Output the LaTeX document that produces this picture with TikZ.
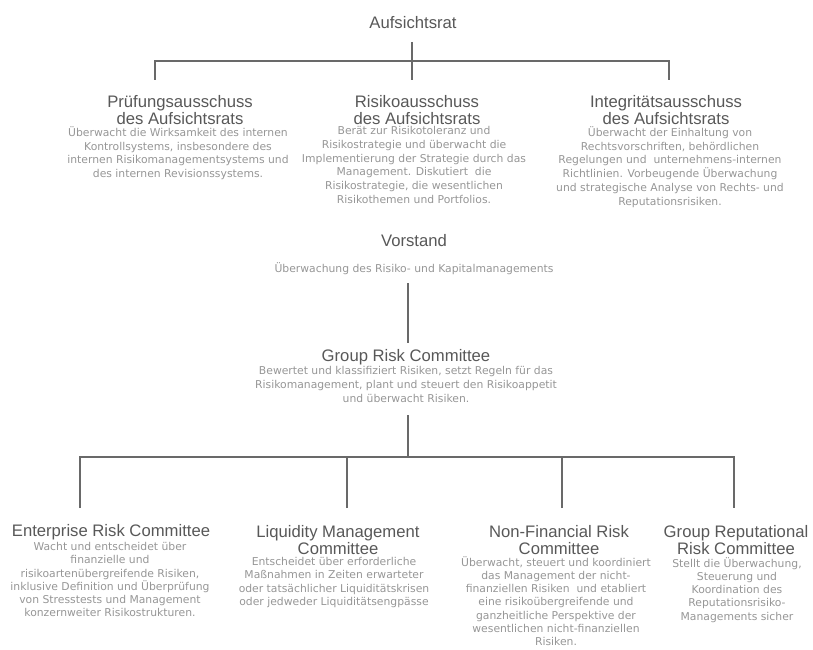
\documentclass[tikz,border=0pt]{standalone}
\usepackage{fontspec}
\setmainfont{Liberation Sans}
\newfontfamily\remitfont{DejaVu Sans}
\definecolor{headgray}{RGB}{88,88,88}
\definecolor{remitgray}{RGB}{150,150,150}
\definecolor{linkgray}{RGB}{105,105,105}
\tikzset{every picture/.style={line width=0.75pt}}
\tikzset{
	body/.style={inner sep=0pt, align=center, text=headgray, font=\fontsize{12.5}{12.3}\selectfont},
	remit/.style={inner sep=0pt, align=center, anchor=north, text=remitgray, font=\remitfont\fontsize{8.1}{10.3}\selectfont},
	remit tight/.style={remit, font=\remitfont\fontsize{8.1}{9.9}\selectfont},
	link/.style={draw=linkgray, line width=1.3pt}}

\begin{document}
\begin{tikzpicture}[x=0.75pt,y=0.75pt,yscale=-1,xscale=1]
	\path (0,0) rectangle (813,649);

	% Aufsichtsrat and its committees
	\node [body] (ar) at (413,23) {Aufsichtsrat};
	\node [body] (pa) at (180,110) {Prüfungsausschuss\\des Aufsichtsrats};
	\node [remit] (pad) at (178,126) {Überwacht die Wirksamkeit des internen\\Kontrollsystems, insbesondere des\\internen Risikomanagementsystems und\\des internen Revisionssystems.};
	\node [body] (ra) at (417,110) {Risikoausschuss\\des Aufsichtsrats};
	\node [remit] (rad) at (414,126) {Berät zur Risikotoleranz und\\Risikostrategie und überwacht die\\Implementierung der Strategie durch das\\Management. Diskutiert\ \ die\\Risikostrategie, die wesentlichen\\Risikothemen und Portfolios.};
	\node [body] (ia) at (666,110) {Integritätsausschuss\\des Aufsichtsrats};
	\node [remit] (iad) at (670,126) {Überwacht der Einhaltung von\\Rechtsvorschriften, behördlichen\\Regelungen und\ \ unternehmens-internen\\Richtlinien. Vorbeugende Überwachung\\und strategische Analyse von Rechts- und\\Reputationsrisiken.};

	% Vorstand
	\node [body] (vs) at (414,241) {Vorstand};
	\node [remit] (vsd) at (414,262) {Überwachung des Risiko- und Kapitalmanagements};

	% Group Risk Committee
	\node [body] (grc) at (406,357) {Group Risk Committee};
	\node [remit] (grcd) at (406,366) {Bewertet und klassifiziert Risiken, setzt Regeln für das\\Risikomanagement, plant und steuert den Risikoappetit\\und überwacht Risiken.};

	% committees below the Group Risk Committee
	\node [body] (er) at (111,532) {Enterprise Risk Committee};
	\node [remit tight] (erd) at (110,542) {Wacht und entscheidet über\\finanzielle und\\risikoartenübergreifende Risiken,\\inklusive Definition und Überprüfung\\von Stresstests und Management\\konzernweiter Risikostrukturen.};
	\node [body] (lm) at (338,540) {Liquidity Management\\Committee};
	\node [remit tight] (lmd) at (334,557) {Entscheidet über erforderliche\\Maßnahmen in Zeiten erwarteter\\oder tatsächlicher Liquiditätskrisen\\oder jedweder Liquiditätsengpässe};
	\node [body] (nf) at (559,540) {Non-Financial Risk\\Committee};
	\node [remit tight] (nfd) at (556,556) {Überwacht, steuert und koordiniert\\das Management der nicht-\\finanziellen Risiken\ \ und etabliert\\eine risikoübergreifende und\\ganzheitliche Perspektive der\\wesentlichen nicht-finanziellen\\Risiken.};
	\node [body] (gr) at (736,540) {Group Reputational\\Risk Committee};
	\node [remit tight] (grd) at (737,557) {Stellt die Überwachung,\\Steuerung und\\Koordination des\\Reputationsrisiko-\\Managements sicher};

	% connector ends
	\coordinate (ar-out) at (412,42);
	\coordinate (tbar) at (412,61);
	\coordinate (pa-in) at (155,80);
	\coordinate (ra-in) at (412,80);
	\coordinate (ia-in) at (669,80);
	\coordinate (vs-out) at (408,283);
	\coordinate (grc-in) at (408,343);
	\coordinate (grc-out) at (408,415);
	\coordinate (bbar) at (408,457);
	\coordinate (er-in) at (80,508);
	\coordinate (lm-in) at (347,508);
	\coordinate (nf-in) at (562,508);
	\coordinate (gr-in) at (734,508);

	% connectors
	\draw [link] (ar-out) -- (ra-in);
	\draw [link] (pa-in) |- (ia-in |- tbar) -- (ia-in);
	\draw [link] (vs-out) -- (grc-in);
	\draw [link] (grc-out) -- (bbar);
	\draw [link] (er-in) |- (gr-in |- bbar) -- (gr-in);
	\draw [link] (lm-in) -- (lm-in |- bbar);
	\draw [link] (nf-in) -- (nf-in |- bbar);

\end{tikzpicture}
\end{document}
